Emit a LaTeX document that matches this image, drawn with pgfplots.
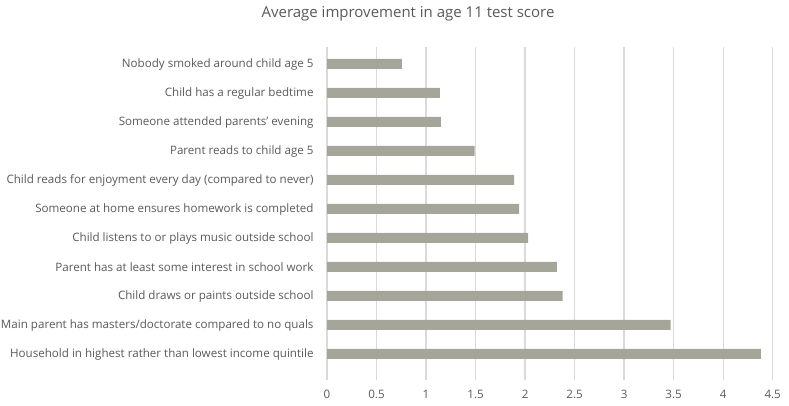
\documentclass[border=0pt]{standalone}
\usepackage{pgfplots}
\pgfplotsset{compat=1.18}
\usepackage{fontspec}
\setmainfont{Open Sans}
\definecolor{barc}{RGB}{165,165,154}
\definecolor{txt}{RGB}{89,89,89}
\definecolor{grd}{RGB}{218,218,218}
\begin{document}
\begin{tikzpicture}
\useasboundingbox (0,0) rectangle (789pt,405pt);
\node[text=txt, font=\fontsize{15}{17}\selectfont] at (408pt,391pt) {Average improvement in age 11 test score};
\begin{axis}[
  at={(327pt,25pt)}, anchor=south west,
  scale only axis, width=445.7pt, height=333pt,
  xbar, bar width=10pt,
  xmin=0, xmax=4.5,
  ymin=-0.897, ymax=10.586,
  xtick={0,0.5,...,4.5},
  ytick={0,...,10},
  yticklabels={
    Household in highest rather than lowest income quintile,
    Main parent has masters/doctorate compared to no quals,
    Child draws or paints outside school,
    Parent has at least some interest in school work,
    Child listens to or plays music outside school,
    Someone at home ensures homework is completed,
    Child reads for enjoyment every day (compared to never),
    Parent reads to child age 5,
    Someone attended parents' evening,
    Child has a regular bedtime,
    Nobody smoked around child age 5},
  xmajorgrids, grid style={grd, line width=1.3pt},
  axis line style={draw=none},
  tick style={draw=none},
  /pgf/number format/assume math mode=true,
  ticklabel style={text=txt, font=\fontsize{11.6}{13}\selectfont},
  yticklabel style={anchor=east, inner sep=0pt, xshift=-9pt},
  xticklabel style={anchor=north, inner sep=0pt, yshift=-10pt},
]
\addplot[fill=barc, draw=none] coordinates {
  (4.38,0) (3.47,1) (2.38,2) (2.32,3) (2.03,4) (1.94,5) (1.89,6) (1.49,7) (1.15,8) (1.14,9) (0.757,10)};
\end{axis}
\end{tikzpicture}
\end{document}
